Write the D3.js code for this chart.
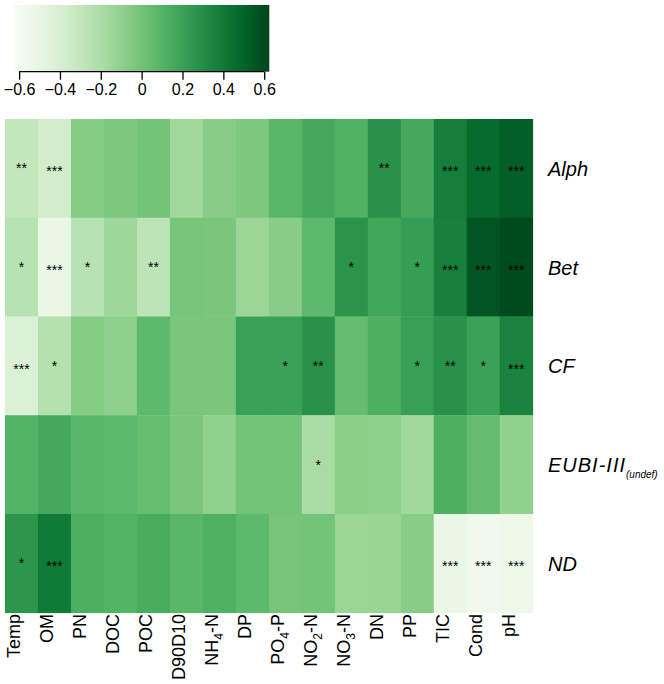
<!DOCTYPE html>
<html>
<head>
<meta charset="utf-8">
<script src="https://cdn.jsdelivr.net/npm/d3@7"></script>
<style>
  html, body { margin: 0; padding: 0; background: #fff; }
  svg { display: block; font-family: "Liberation Sans", Arial, Helvetica, sans-serif; }
</style>
</head>
<body>
<svg id="chart" width="664" height="684"></svg>
<script>
// ---- Data ----
const columns = ["Temp","OM","PN","DOC","POC","D90D10","NH4-N","DP","PO4-P","NO2-N","NO3-N","DN","PP","TIC","Cond","pH"];
const rows = ["Alph","Bet","CF","EUBI-III","ND"];

const valuesAlph = [-0.30,-0.37,-0.06,-0.03, 0.00,-0.16,-0.07,-0.03, 0.08, 0.16, 0.11, 0.28, 0.16, 0.38, 0.47, 0.52];
const valuesBet  = [-0.25,-0.52,-0.25,-0.15,-0.27,-0.01,-0.02,-0.14,-0.07, 0.07, 0.27, 0.17, 0.22, 0.37, 0.56, 0.60];
const valuesCF   = [-0.42,-0.24,-0.06,-0.09, 0.07,-0.02,-0.02, 0.20, 0.20, 0.28, 0.05, 0.13, 0.21, 0.28, 0.20, 0.35];
const valuesEUBI = [ 0.10, 0.16, 0.08, 0.07, 0.04,-0.02,-0.10, 0.00, 0.00,-0.19,-0.08,-0.09,-0.16, 0.13, 0.05,-0.10];
const valuesND   = [ 0.26, 0.40, 0.13, 0.10, 0.14, 0.08, 0.12, 0.07,-0.01, 0.00,-0.14,-0.13,-0.07,-0.52,-0.57,-0.54];

const starsAlph = ["**","***","","","","","","","","","","**","","***","***","***"];
const starsBet  = ["*","***","*","","**","","","","","","*","","*","***","***","***"];
const starsCF   = ["***","*","","","","","","","*","**","","","*","**","*","***"];
const starsEUBI = ["","","","","","","","","","*","","","","","",""];
const starsND   = ["*","***","","","","","","","","","","","","***","***","***"];

const colorTicks = [-0.6,-0.4,-0.2,0,0.2,0.4,0.6];
const colorDomain = [-0.625, 0.625];

const valueRows = [valuesAlph, valuesBet, valuesCF, valuesEUBI, valuesND];
const starRows = [starsAlph, starsBet, starsCF, starsEUBI, starsND];

// ---- Build table ----
const cells = [];
rows.forEach((r, i) => columns.forEach((c, j) => {
  cells.push({row: r, col: c, value: valueRows[i][j], stars: starRows[i][j]});
}));

const svg = d3.select("#chart");
const color = d3.scaleSequential(d3.interpolateGreens).domain(colorDomain);

const x = d3.scaleBand().domain(columns).range([5, 532.7]);
const y = d3.scaleBand().domain(rows).range([119, 612.7]);

// cells
svg.append("g").selectAll("rect").data(cells).join("rect")
  .attr("x", d => x(d.col))
  .attr("y", d => y(d.row))
  .attr("width", x.bandwidth() + 0.4)
  .attr("height", y.bandwidth() + 0.4)
  .attr("fill", d => color(d.value));

// stars
svg.append("g").selectAll("text").data(cells.filter(d => d.stars)).join("text")
  .attr("x", d => x(d.col) + x.bandwidth() / 2)
  .attr("y", d => y(d.row) + y.bandwidth() / 2 + (d.stars.length === 3 ? 8 : 5))
  .attr("text-anchor", "middle")
  .attr("font-size", 14)
  .attr("fill", "#000")
  .text(d => d.stars);

// row labels
const rowLabels = svg.append("g").selectAll("text").data(rows).join("text")
  .attr("x", 548)
  .attr("y", d => y(d) + y.bandwidth() / 2)
  .attr("dy", "0.38em")
  .attr("font-size", 20)
  .attr("font-style", "italic")
  .attr("fill", "#000");
rowLabels.each(function(d) {
  const t = d3.select(this);
  if (d === "EUBI-III") {
    t.append("tspan").attr("letter-spacing", 1).text("EUBI-III");
    t.append("tspan").attr("font-size", 10).attr("dy", 6).text("(undef)");
  } else {
    t.text(d);
  }
});

// column labels (rotated, with subscripts)
function labelParts(c) {
  const m = c.match(/^([A-Z]+)(\d)(-.+)$/);
  if (m) return [m[1], m[2], m[3]];
  return [c];
}
const colLabels = svg.append("g").selectAll("text").data(columns).join("text")
  .attr("transform", d => `translate(${x(d) + x.bandwidth() / 2 - 1},614) rotate(-90)`)
  .attr("text-anchor", "end")
  .attr("font-size", 18)
  .attr("fill", "#000");
colLabels.each(function(d) {
  const t = d3.select(this);
  const p = labelParts(d);
  if (p.length === 3) {
    t.append("tspan").text(p[0]);
    t.append("tspan").attr("font-size", 12).attr("dy", 5).text(p[1]);
    t.append("tspan").attr("dy", -5).text(p[2]);
  } else {
    t.text(d);
  }
});

// ---- Colour bar ----
const cbX = d3.scaleLinear().domain(colorDomain).range([14, 269.3]);
const defs = svg.append("defs");
const grad = defs.append("linearGradient").attr("id", "cbgrad")
  .attr("x1", "0%").attr("x2", "100%").attr("y1", "0%").attr("y2", "0%");
d3.range(0, 1.0001, 0.05).forEach(t => {
  grad.append("stop").attr("offset", (t * 100) + "%").attr("stop-color", d3.interpolateGreens(t));
});
svg.append("rect")
  .attr("x", cbX(colorDomain[0]))
  .attr("y", 5)
  .attr("width", cbX(colorDomain[1]) - cbX(colorDomain[0]))
  .attr("height", 66.7)
  .attr("fill", "url(#cbgrad)");

const cbAxis = d3.axisBottom(cbX).tickValues(colorTicks).tickSize(8).tickPadding(4)
  .tickFormat(d => d === 0 ? "0" : d3.format(".1f")(d).replace("-", "\u2212"));
const gAxis = svg.append("g").attr("transform", "translate(0,71.7)").call(cbAxis);
gAxis.select(".domain").attr("d", `M${cbX(-0.6)},0H${cbX(0.6)}`).attr("stroke", "#000").attr("stroke-width", 1.3);
gAxis.selectAll(".tick line").attr("stroke", "#000").attr("stroke-width", 1.3);
gAxis.selectAll(".tick text").attr("font-size", 16).attr("fill", "#000")
  .attr("font-family", "\"Liberation Sans\", Arial, Helvetica, sans-serif");
</script>
</body>
</html>
